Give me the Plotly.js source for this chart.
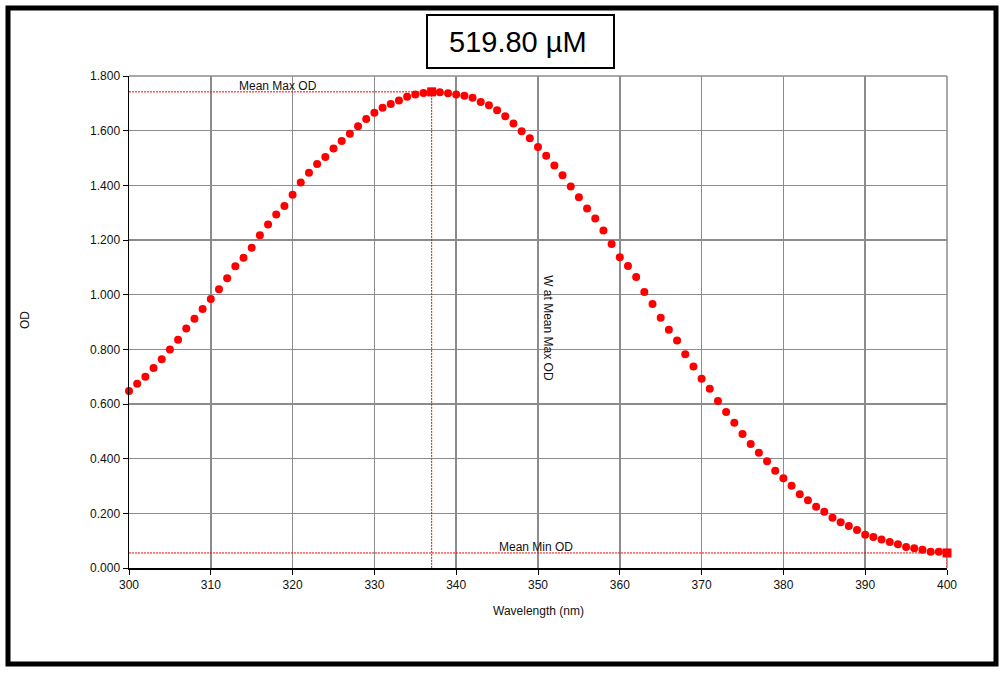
<!DOCTYPE html>
<html>
<head>
<meta charset="utf-8">
<script src="https://cdn.plot.ly/plotly-3.0.1.min.js"></script>
<style>html,body{margin:0;padding:0;background:#fff;}#chart{width:1001px;height:675px;}</style>
</head>
<body>
<div id="chart"></div>
<script>
const wavelength = [300,301,302,303,304,305,306,307,308,309,310,311,312,313,314,315,316,317,318,319,320,321,322,323,324,325,326,327,328,329,330,331,332,333,334,335,336,337,338,339,340,341,342,343,344,345,346,347,348,349,350,351,352,353,354,355,356,357,358,359,360,361,362,363,364,365,366,367,368,369,370,371,372,373,374,375,376,377,378,379,380,381,382,383,384,385,386,387,388,389,390,391,392,393,394,395,396,397,398,399,400];
const od = [0.648,0.674,0.700,0.732,0.764,0.799,0.835,0.876,0.912,0.948,0.984,1.020,1.060,1.104,1.135,1.172,1.217,1.257,1.293,1.324,1.366,1.410,1.446,1.478,1.504,1.535,1.562,1.589,1.616,1.643,1.666,1.684,1.698,1.710,1.724,1.732,1.738,1.742,1.741,1.737,1.732,1.728,1.720,1.705,1.693,1.675,1.653,1.626,1.598,1.572,1.540,1.508,1.473,1.437,1.396,1.356,1.315,1.279,1.235,1.185,1.137,1.105,1.065,1.010,0.966,0.916,0.872,0.832,0.782,0.737,0.692,0.656,0.611,0.571,0.531,0.490,0.454,0.422,0.391,0.356,0.328,0.301,0.270,0.248,0.224,0.206,0.184,0.167,0.154,0.139,0.122,0.113,0.104,0.095,0.087,0.077,0.072,0.067,0.059,0.059,0.056];
const meanMaxWavelength = 337;
const meanMaxOD = 1.742;
const meanMinWavelength = 400;
const meanMinOD = 0.055;
const xStart = 300, xEnd = 400;
const chartTitle = "519.80 µM";
const xTicks = [300,310,320,330,340,350,360,370,380,390,400];
const yTicks = [0,0.2,0.4,0.6,0.8,1.0,1.2,1.4,1.6,1.8];
const yTickLabels = ["0.000","0.200","0.400","0.600","0.800","1.000","1.200","1.400","1.600","1.800"];

const W = 1001, H = 675;
const M = {l:129, r:54, t:76, b:107};
const pw = W - M.l - M.r, ph = H - M.t - M.b;
const px = v => (v - M.l) / pw;
const py = v => (H - M.b - v) / ph;
const font = "Liberation Sans, Arial, sans-serif";
const red = "#ff0000";
const dotted = {color:red, width:1, dash:"2px,1px"};

const traces = [
  {x:[xStart, meanMaxWavelength], y:[meanMaxOD, meanMaxOD], mode:"lines", line:dotted, hoverinfo:"skip"},
  {x:[meanMaxWavelength, meanMaxWavelength], y:[meanMaxOD, 0], mode:"lines", line:dotted, hoverinfo:"skip"},
  {x:[xStart, xEnd], y:[meanMinOD, meanMinOD], mode:"lines", line:dotted, hoverinfo:"skip"},
  {x:[meanMinWavelength, meanMinWavelength], y:[meanMinOD, 0], mode:"lines", line:dotted, hoverinfo:"skip"},
  {x:wavelength, y:od, mode:"markers", marker:{color:red, size:8, symbol:"circle"}, cliponaxis:false},
  {x:[meanMaxWavelength, meanMinWavelength], y:[meanMaxOD, meanMinOD], mode:"markers", marker:{color:red, size:9, symbol:"square"}, cliponaxis:false}
];

const layout = {
  width:W, height:H, margin:M, showlegend:false,
  paper_bgcolor:"#fff", plot_bgcolor:"#fff",
  font:{family:font, size:12, color:"#111"},
  xaxis:{range:[xStart,xEnd], tickvals:xTicks, ticks:"outside", ticklen:5, tickcolor:"#000", tickwidth:1,
         showline:true, linecolor:"#000", linewidth:1.5, showgrid:true, gridcolor:"#8c8c8c", gridwidth:1.5, zeroline:false,
         tickfont:{family:font, size:12, color:"#111"}},
  yaxis:{range:[0,1.8], tickvals:yTicks, ticktext:yTickLabels, ticks:"outside", ticklen:5, tickcolor:"#000", tickwidth:1,
         showline:true, linecolor:"#000", linewidth:1.5, showgrid:true, gridcolor:"#8c8c8c", gridwidth:1.5, zeroline:false,
         tickfont:{family:font, size:12, color:"#111"}},
  shapes:[
    {type:"line", xref:"paper", yref:"paper", x0:0, x1:1, y0:1, y1:1, line:{color:"#8c8c8c", width:1.5}, layer:"below"},
    {type:"line", xref:"paper", yref:"paper", x0:1, x1:1, y0:0, y1:1, line:{color:"#8c8c8c", width:1.5}, layer:"below"},
    {type:"rect", xref:"paper", yref:"paper", x0:px(8), x1:px(996), y0:py(8), y1:py(664), line:{color:"#000", width:5}},
    {type:"rect", xref:"paper", yref:"paper", x0:px(427), x1:px(614), y0:py(15), y1:py(68), line:{color:"#000", width:2}, fillcolor:"#fff"}
  ],
  annotations:[
    {xref:"paper", yref:"paper", x:px(518), y:py(42), text:chartTitle, showarrow:false, font:{family:font, size:29, color:"#000"}, xanchor:"center", yanchor:"middle"},
    {xref:"paper", yref:"paper", x:px(538), y:py(611), text:"Wavelength (nm)", showarrow:false, font:{family:font, size:12, color:"#111"}, xanchor:"center", yanchor:"middle"},
    {xref:"paper", yref:"paper", x:px(25), y:py(320), text:"OD", showarrow:false, textangle:-90, font:{family:font, size:12, color:"#111"}, xanchor:"center", yanchor:"middle"},
    {x:318.2, y:meanMaxOD, text:"Mean Max OD", showarrow:false, yanchor:"bottom", yshift:-3, font:{family:font, size:12, color:"#111"}},
    {x:349.7, y:meanMinOD, text:"Mean Min OD", showarrow:false, yanchor:"bottom", yshift:-3, font:{family:font, size:12, color:"#111"}},
    {x:351.2, y:0.878, text:"W at Mean Max OD", showarrow:false, textangle:90, font:{family:font, size:12, color:"#111"}, xanchor:"center", yanchor:"middle"}
  ]
};

Plotly.newPlot("chart", traces, layout, {displayModeBar:false, staticPlot:true});
</script>
</body>
</html>
